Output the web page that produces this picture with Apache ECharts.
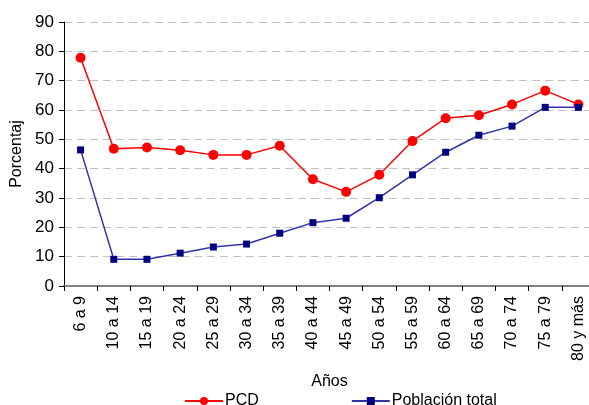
<!DOCTYPE html>
<html>
<head>
<meta charset="utf-8">
<script src="https://cdn.jsdelivr.net/npm/echarts@6/dist/echarts.min.js"></script>
<style>html,body{margin:0;padding:0;background:#fff}#c{width:589px;height:405px}</style>
</head>
<body>
<div id="c"></div>
<script>
const categories = ["6 a 9","10 a 14","15 a 19","20 a 24","25 a 29","30 a 34","35 a 39","40 a 44","45 a 49","50 a 54","55 a 59","60 a 64","65 a 69","70 a 74","75 a 79","80 y más"];
const pcd = [77.8,46.8,47.2,46.3,44.7,44.7,47.8,36.4,32.1,37.9,49.4,57.2,58.2,61.9,66.6,61.9];
const poblacionTotal = [46.4,9.1,9.1,11.2,13.3,14.3,18.0,21.6,23.1,30.1,37.9,45.6,51.4,54.5,60.9,60.9];
const yTicks = [0,10,20,30,40,50,60,70,80,90];

const font = "'Liberation Sans', Arial, sans-serif";
const chart = echarts.init(document.getElementById('c'), null, {renderer:'canvas'});
chart.setOption({
  animation:false,
  backgroundColor:'#fff',
  grid:{left:64, top:22, width:531, height:264, containLabel:false, outerBoundsMode:'none'},
  legend:{
    top:388, left:179, itemGap:92, itemWidth:38, itemHeight:10,
    textStyle:{fontFamily:font, fontSize:16, color:'#000', padding:[0,0,0,-3]},
    data:['PCD','Población total']
  },
  xAxis:{
    type:'category', data:categories, boundaryGap:true,
    name:'Años', nameLocation:'middle', nameGap:88,
    nameTextStyle:{fontFamily:font, fontSize:16, color:'#000'},
    axisLine:{lineStyle:{color:'#808080', width:2}},
    axisTick:{show:true, length:5, lineStyle:{color:'#000'}},
    axisLabel:{rotate:90, interval:0, fontFamily:font, fontSize:16, color:'#000', margin:10},
    splitLine:{show:false}
  },
  yAxis:{
    type:'value', min:yTicks[0], max:yTicks[yTicks.length-1], interval:10,
    name:'Porcentaj', nameLocation:'middle', nameGap:38, nameRotate:90,
    nameTextStyle:{fontFamily:font, fontSize:16, color:'#000'},
    axisLine:{show:true, lineStyle:{color:'#000', width:1}},
    axisTick:{show:true, length:5, lineStyle:{color:'#000'}},
    axisLabel:{fontFamily:font, fontSize:17, color:'#000', margin:10},
    splitLine:{show:true, lineStyle:{color:'#c0c0c0', type:[8,5], width:1}}
  },
  series:[
    {name:'PCD', type:'line', data:pcd, symbol:'circle', symbolSize:10,
     lineStyle:{color:'#ff0000', width:1.5}, itemStyle:{color:'#ff0000'}},
    {name:'Población total', type:'line', data:poblacionTotal, symbol:'rect', symbolSize:7,
     lineStyle:{color:'#3333aa', width:1.5}, itemStyle:{color:'#000080'}}
  ]
});
</script>
</body>
</html>
